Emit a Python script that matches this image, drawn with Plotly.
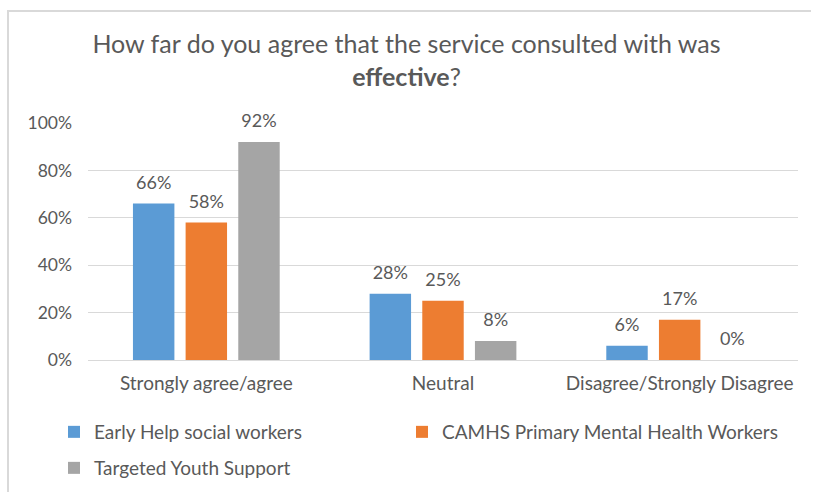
import plotly.graph_objects as go

# Survey responses: share of respondents per answer band
categories = ["Strongly agree/agree", "Neutral", "Disagree/Strongly Disagree"]
early_help = [66, 28, 6]
camhs = [58, 25, 17]
targeted_youth = [92, 8, 0]

series_names = [
    "Early Help social workers",
    "CAMHS Primary Mental Health Workers",
    "Targeted Youth Support",
]
series_values = [early_help, camhs, targeted_youth]
series_colors = ["#5B9BD5", "#ED7D31", "#A5A5A5"]
series_legends = ["legend", "legend2", "legend3"]

y_ticks = [0, 20, 40, 60, 80, 100]
y_tick_labels = ["0%", "20%", "40%", "60%", "80%", "100%"]

FONT = "Lato"
TEXT_COLOR = "#595959"
GRID_COLOR = "#D9D9D9"

W, H = 813, 492
ML, MR, MT, MB = 88, 15, 123, 132
PW, PH = W - ML - MR, H - MT - MB


def px_x(px):
    return (px - ML) / PW


def px_y(py):
    return (H - MB - py) / PH


fig = go.Figure()

for name, vals, color, leg in zip(series_names, series_values, series_colors, series_legends):
    fig.add_trace(go.Bar(
        name=name,
        x=categories,
        y=vals,
        marker=dict(color=color, line=dict(width=0)),
        legend=leg,
        hoverinfo="skip",
    ))

# value labels, grouped the same way as the bars
for name, vals in zip(series_names, series_values):
    fig.add_trace(go.Scatter(
        x=categories,
        y=vals,
        mode="markers+text",
        text=[f"{v}%" for v in vals],
        textposition="top center",
        textfont=dict(family=FONT, size=18, color=TEXT_COLOR),
        marker=dict(size=15, opacity=0),
        showlegend=False,
        hoverinfo="skip",
        cliponaxis=False,
    ))

legend_font = dict(family=FONT, size=19, color=TEXT_COLOR)


def legend_box(left_px, mid_px):
    return dict(
        orientation="h",
        x=left_px / W,
        xanchor="left",
        xref="container",
        y=1 - mid_px / H,
        yanchor="middle",
        yref="container",
        font=legend_font,
        bgcolor="rgba(0,0,0,0)",
    )


# light frame along the left and top edges of the chart
frame_line = dict(color=GRID_COLOR, width=2)
frame = [
    dict(type="line", xref="paper", yref="paper",
         x0=px_x(8), x1=px_x(8), y0=px_y(H + 2), y1=px_y(11),
         line=frame_line, layer="above"),
    dict(type="line", xref="paper", yref="paper",
         x0=px_x(7), x1=px_x(W - 2), y0=px_y(11), y1=px_y(11),
         line=frame_line, layer="above"),
]

fig.update_layout(
    width=W,
    height=H,
    margin=dict(l=ML, r=MR, t=MT, b=MB),
    paper_bgcolor="white",
    plot_bgcolor="white",
    font=dict(family=FONT, size=18, color=TEXT_COLOR),
    barmode="group",
    bargap=0.3325,
    bargroupgap=0.213,
    scattermode="group",
    scattergap=0.3325,
    title=dict(
        text="How far do you agree that the service consulted with was<br><b>effective</b>?",
        font=dict(family=FONT, size=25, color=TEXT_COLOR),
        x=0.5,
        xanchor="center",
        xref="container",
        y=1 - 53 / H,
        yanchor="middle",
        yref="container",
    ),
    xaxis=dict(
        showgrid=False,
        showline=False,
        zeroline=False,
        ticks="",
        automargin=False,
        ticklabelstandoff=10,
        ticklabeloverflow="allow",
        tickfont=dict(family=FONT, size=19, color=TEXT_COLOR),
    ),
    yaxis=dict(
        range=[0, 100],
        tickvals=y_ticks,
        ticktext=y_tick_labels,
        showgrid=True,
        gridcolor=GRID_COLOR,
        gridwidth=1,
        zeroline=True,
        zerolinecolor=GRID_COLOR,
        zerolinewidth=1,
        showline=False,
        ticks="",
        automargin=False,
        ticklabelstandoff=15,
        tickfont=dict(family=FONT, size=17.5, color=TEXT_COLOR),
    ),
    legend=legend_box(54, 432),
    legend2=legend_box(402, 432),
    legend3=legend_box(54, 468),
    shapes=frame,
)

fig.write_html("out.html", config={"displayModeBar": False})
